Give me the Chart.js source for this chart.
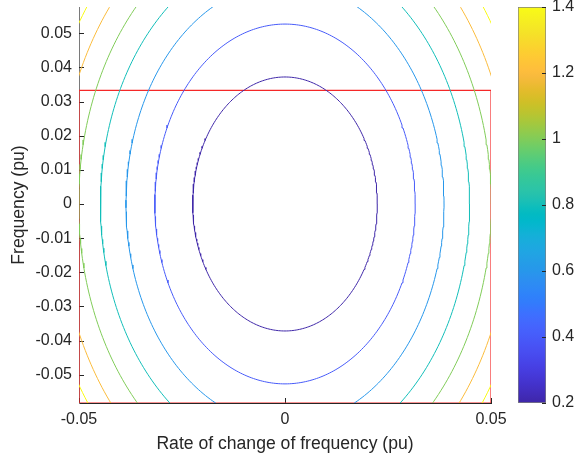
<!DOCTYPE html>
<html><head><meta charset="utf-8">
<script src="https://cdn.jsdelivr.net/npm/chart.js@4/dist/chart.umd.min.js"></script>
<style>
html,body{margin:0;padding:0;background:#fff;}
#wrap{position:relative;width:574px;height:461px;overflow:hidden;}
#main{position:absolute;left:0;top:0;}
#cbar{position:absolute;left:505px;top:0;}
</style></head><body>
<div id="wrap"><canvas id="main" width="574" height="461"></canvas><canvas id="cbar" width="69" height="461"></canvas></div>
<script>
// ---- data ----
const contourLevels = [0.2, 0.4, 0.6, 0.8, 1.0, 1.2, 1.4];
const semiAxisRocof = [0.0224, 0.0316, 0.0386, 0.0448, 0.0501, 0.0549, 0.0593]; // half-width at frequency = 0
const semiAxisFreq  = [0.0372, 0.0527, 0.0648, 0.0746, 0.0834, 0.0914, 0.0987]; // half-height at rocof = 0
const boxRocof = [-0.05, 0.05];
const boxFreq  = [-0.0583, 0.0333];
const xRange = [-0.05, 0.05];
const yRange = [-0.0583, 0.0577];
const xTicks = [-0.05, 0, 0.05];
const xTickLabels = ['-0.05', '0', '0.05'];
const yTicks = [-0.05, -0.04, -0.03, -0.02, -0.01, 0, 0.01, 0.02, 0.03, 0.04, 0.05];
const yTickLabels = ['-0.05', '-0.04', '-0.03', '-0.02', '-0.01', '0', '0.01', '0.02', '0.03', '0.04', '0.05'];
const cbRange = [0.2, 1.4];
const cbTicks = [0.2, 0.4, 0.6, 0.8, 1.0, 1.2, 1.4];
const cbTickLabels = ['0.2', '0.4', '0.6', '0.8', '1', '1.2', '1.4'];

// ---- parula colormap ----
const PARULA = [
[0.2422,0.1504,0.6603],[0.2504,0.1650,0.7076],[0.2578,0.1818,0.7511],[0.2647,0.1978,0.7952],
[0.2706,0.2147,0.8364],[0.2751,0.2342,0.8710],[0.2783,0.2559,0.8991],[0.2803,0.2782,0.9221],
[0.2813,0.3006,0.9414],[0.2810,0.3228,0.9579],[0.2795,0.3447,0.9717],[0.2760,0.3667,0.9829],
[0.2699,0.3892,0.9906],[0.2602,0.4123,0.9952],[0.2440,0.4358,0.9988],[0.2206,0.4603,0.9973],
[0.1963,0.4847,0.9892],[0.1834,0.5074,0.9798],[0.1786,0.5289,0.9682],[0.1764,0.5499,0.9520],
[0.1687,0.5703,0.9359],[0.1540,0.5902,0.9218],[0.1460,0.6091,0.9079],[0.1380,0.6276,0.8973],
[0.1248,0.6459,0.8883],[0.1113,0.6635,0.8763],[0.0952,0.6798,0.8598],[0.0689,0.6948,0.8394],
[0.0297,0.7082,0.8163],[0.0036,0.7203,0.7917],[0.0067,0.7312,0.7660],[0.0433,0.7411,0.7394],
[0.0964,0.7500,0.7120],[0.1408,0.7584,0.6842],[0.1717,0.7670,0.6554],[0.1938,0.7758,0.6251],
[0.2161,0.7843,0.5923],[0.2470,0.7918,0.5567],[0.2906,0.7973,0.5188],[0.3406,0.8008,0.4789],
[0.3909,0.8029,0.4354],[0.4456,0.8024,0.3909],[0.5044,0.7993,0.3480],[0.5616,0.7942,0.3045],
[0.6174,0.7876,0.2612],[0.6720,0.7793,0.2227],[0.7242,0.7698,0.1910],[0.7738,0.7598,0.1646],
[0.8203,0.7498,0.1535],[0.8634,0.7406,0.1596],[0.9035,0.7330,0.1774],[0.9393,0.7288,0.2100],
[0.9728,0.7298,0.2394],[0.9956,0.7434,0.2371],[0.9970,0.7659,0.2199],[0.9952,0.7893,0.2028],
[0.9892,0.8136,0.1885],[0.9786,0.8386,0.1766],[0.9676,0.8639,0.1643],[0.9610,0.8890,0.1537],
[0.9597,0.9135,0.1423],[0.9628,0.9373,0.1265],[0.9691,0.9606,0.1064],[0.9769,0.9839,0.0805]];
function parula(t){
  t = Math.max(0, Math.min(1, t));
  const f = t * (PARULA.length - 1), i = Math.floor(f), k = f - i;
  const a = PARULA[i], b = PARULA[Math.min(i + 1, PARULA.length - 1)];
  const c = a.map((v, j) => Math.round(255 * (v + (b[j] - v) * k)));
  return `rgb(${c[0]},${c[1]},${c[2]})`;
}
function levelColor(v){ return parula((v - cbRange[0]) / (cbRange[1] - cbRange[0])); }

const TXT = '#262626';
const FONT = '"Liberation Sans", Arial, Helvetica, sans-serif';

// ---- contour datasets (ellipses from the read semi-axes) ----
function ellipse(a, b){
  const pts = [];
  const n = 360;
  for (let i = 0; i <= n; i++){
    const t = 2 * Math.PI * i / n;
    pts.push({x: a * Math.cos(t), y: b * Math.sin(t)});
  }
  return pts;
}
const datasets = contourLevels.map((lv, i) => ({
  label: 'level ' + lv,
  data: ellipse(semiAxisRocof[i], semiAxisFreq[i]),
  showLine: true, pointRadius: 0, borderWidth: 1,
  borderColor: levelColor(lv), backgroundColor: levelColor(lv), tension: 0, fill: false
}));
datasets.push({
  label: 'box',
  data: [
    {x: boxRocof[0], y: boxFreq[0]}, {x: boxRocof[1], y: boxFreq[0]},
    {x: boxRocof[1], y: boxFreq[1]}, {x: boxRocof[0], y: boxFreq[1]},
    {x: boxRocof[0], y: boxFreq[0]}],
  showLine: true, pointRadius: 0, borderWidth: 1.2,
  borderColor: 'rgb(245,40,40)', tension: 0, fill: false
});

const innerTicks = {
  id: 'innerTicks',
  beforeDatasetsDraw(chart){
    const {ctx, chartArea: a, scales: {x, y}} = chart;
    ctx.save(); ctx.strokeStyle = TXT; ctx.lineWidth = 1; ctx.beginPath();
    yTicks.forEach(v => { const p = Math.round(y.getPixelForValue(v)) + 0.5; ctx.moveTo(a.left, p); ctx.lineTo(a.left + 5, p); });
    xTicks.forEach(v => { const p = Math.round(x.getPixelForValue(v)) + 0.5; ctx.moveTo(p, a.bottom); ctx.lineTo(p, a.bottom - 5); });
    ctx.stroke(); ctx.restore();
  }
};
function noPad(s){ s.paddingTop = 0; s.paddingBottom = 0; s.paddingLeft = 0; s.paddingRight = 0; }

new Chart(document.getElementById('main'), {
  type: 'scatter',
  data: { datasets },
  options: {
    responsive: false, animation: false, devicePixelRatio: 1,
    layout: { padding: { top: 7, right: 83, left: 0, bottom: 0 } },
    plugins: { legend: { display: false }, tooltip: { enabled: false } },
    scales: {
      x: {
        type: 'linear', min: xRange[0], max: xRange[1],
        afterBuildTicks: s => { s.ticks = xTicks.map(v => ({value: v})); },
        afterFit: s => { s.height = 58; noPad(s); },
        grid: { display: false, drawTicks: false },
        border: { display: true, color: TXT, width: 1 },
        ticks: { autoSkip: false, maxRotation: 0, padding: 7, color: TXT, font: { family: FONT, size: 16 },
          callback: (v, i) => xTickLabels[i] },
        title: { display: true, text: 'Rate of change of frequency (pu)', color: TXT,
          font: { family: FONT, size: 17.6 }, padding: { top: 0, bottom: 6 } }
      },
      y: {
        type: 'linear', min: yRange[0], max: yRange[1],
        afterBuildTicks: s => { s.ticks = yTicks.map(v => ({value: v})); },
        afterFit: s => { s.width = 79; noPad(s); },
        grid: { display: false, drawTicks: false },
        border: { display: true, color: '#7a7a7a', width: 1 },
        ticks: { autoSkip: false, padding: 7, color: TXT, font: { family: FONT, size: 16 },
          callback: (v, i) => yTickLabels[i] },
        title: { display: true, text: 'Frequency (pu)', color: TXT,
          font: { family: FONT, size: 17.6 }, padding: { top: 9, bottom: 0 } }
      }
    }
  },
  plugins: [innerTicks]
});

// ---- colorbar ----
const cbTickPlugin = {
  id: 'cbTicks',
  afterDatasetsDraw(chart){
    const {ctx, chartArea: a, scales: {y}} = chart;
    ctx.save(); ctx.strokeStyle = TXT; ctx.lineWidth = 1; ctx.beginPath();
    cbTicks.forEach(v => { const p = Math.round(y.getPixelForValue(v)) + 0.5; ctx.moveTo(a.right, p); ctx.lineTo(a.right - 4, p); });
    ctx.stroke(); ctx.restore();
  }
};
new Chart(document.getElementById('cbar'), {
  type: 'bar',
  data: { labels: ['colorbar'], datasets: [{
    data: [cbRange],
    backgroundColor: (c) => {
      const ch = c.chart, a = ch.chartArea;
      if (!a) return '#888';
      const g = ch.ctx.createLinearGradient(0, a.bottom, 0, a.top);
      PARULA.forEach((_, i) => g.addColorStop(i / (PARULA.length - 1), parula(i / (PARULA.length - 1))));
      return g;
    },
    borderColor: '#7f7f7f', borderWidth: 1, borderSkipped: false,
    categoryPercentage: 1, barPercentage: 1
  }]},
  options: {
    responsive: false, animation: false, devicePixelRatio: 1,
    layout: { padding: { top: 7, right: 0, left: 13, bottom: 58 } },
    plugins: { legend: { display: false }, tooltip: { enabled: false } },
    scales: {
      x: { display: false },
      y: {
        position: 'right', min: cbRange[0], max: cbRange[1],
        afterBuildTicks: s => { s.ticks = cbTicks.map(v => ({value: v})); },
        afterFit: s => { s.width = 28; noPad(s); },
        grid: { display: false, drawTicks: false },
        border: { display: false },
        ticks: { autoSkip: false, padding: 6, color: TXT, font: { family: FONT, size: 16 },
          callback: (v, i) => cbTickLabels[i] }
      }
    }
  },
  plugins: [cbTickPlugin]
});
</script>
</body></html>
